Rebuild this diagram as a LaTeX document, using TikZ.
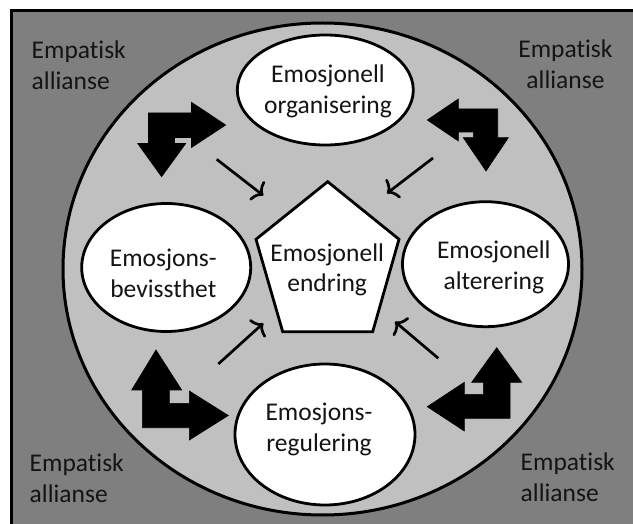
\documentclass[tikz,border=0pt]{standalone}
\usepackage{fontspec}
\setmainfont{Carlito}[Ligatures={NoCommon}]
\usetikzlibrary{shapes.geometric,arrows.meta}
\definecolor{outergray}{HTML}{7F7F7F}
\definecolor{innergray}{HTML}{C0C0C0}
\definecolor{ink}{HTML}{141414}
\begin{document}
\begin{tikzpicture}[x=1pt,y=-1pt,
  every node/.style={inner sep=0pt,font=\fontsize{25.5}{31}\selectfont,text=ink},
  stage/.style={ellipse,draw=black,fill=white,line width=2.8pt},
  stagetext/.style={anchor=base,align=center},
  cornertext/.style={anchor=base west,align=left},
  flow/.style={line width=2.7pt,-{Computer Modern Rightarrow[length=9pt,width=24pt,line width=2.7pt]}},
  bent/.style={fill=black,draw=black,line width=0.6pt,line join=miter}]
\useasboundingbox (0,0) rectangle (633,524);
\clip (0,0) rectangle (633,524);
\fill[white] (0,0) rectangle (633,524);
% framed dark background and the light circle
\draw[fill=outergray,line width=3pt] (11.5,10.5) rectangle (660,560);
\draw[fill=innergray,line width=3pt] (322.5,269) ellipse [x radius=259.5pt,y radius=246pt];

% the four stages (text anchors sit on the baseline of the last line)
\node[stage,minimum width=176pt,minimum height=110pt] (org) at (325.3,90) {};
\node[stage,minimum width=169pt,minimum height=128pt] (bev) at (166.2,267.5) {};
\node[stage,minimum width=166pt,minimum height=125pt] (alt) at (485.5,264.2) {};
\node[stage,minimum width=180pt,minimum height=141pt] (reg) at (325,434.5) {};
\node[stagetext] (orgt) at (328,114) {Emosjonell\\organisering};
\node[stagetext] (bevt) at (163.3,297.7) {Emosjons-\\bevissthet};
\node[stagetext] (altt) at (493.8,289.3) {Emosjonell\\alterering};
\node[stagetext] (regt) at (319,451.7) {Emosjons-\\regulering};

% central pentagon
\draw[fill=white,line width=2.8pt,line join=miter]
  (327.7,181.7) -- (399,239.3) -- (372.7,331.7) -- (282.7,331.7) -- (256,239.3) -- cycle;
\node[stagetext] (endr) at (327.2,292) {Emosjonell\\endring};

% corner labels
\node[cornertext] (alTL) at (31.5,90) {Empatisk\\allianse};
\node[anchor=base,align=center] (alTR) at (565.5,89) {Empatisk\\allianse};
\node[cornertext] (alBL) at (29.5,502) {Empatisk\\allianse};
\node[cornertext] (alBR) at (520.5,501.3) {Empatisk\\allianse};

% thin arrows towards the pentagon
\coordinate (s1) at (216.7,159.3); \coordinate (t1) at (263.3,195.5);
\coordinate (s2) at (433,158);     \coordinate (t2) at (387,193.3);
\coordinate (s3) at (218.3,364);   \coordinate (t3) at (263.3,323.3);
\coordinate (s4) at (438.3,358.3); \coordinate (t4) at (395,321.7);
\draw[flow] (s1) -- (t1);
\draw[flow] (s2) -- (t2);
\draw[flow] (s3) -- (t3);
\draw[flow] (s4) -- (t4);

% bent double arrows
\draw[bent] (148.5,113) -- (191.5,113) -- (191.5,102.3) -- (225.7,125) -- (191.5,147.5)
  -- (191.5,137.5) -- (174.5,137.5) -- (174.5,143.5) -- (185.7,143.5) -- (161.6,176.7)
  -- (137.7,143.5) -- (148.5,143.5) -- cycle;
\draw[bent] (497.7,109) -- (497.7,137.7) -- (508.3,137.7) -- (486,171) -- (463.3,137.7)
  -- (473.3,137.7) -- (473.3,132) -- (458.3,132) -- (458.3,141) -- (427.3,120)
  -- (458.3,99) -- (458.3,109) -- cycle;
\draw[bent] (142.3,427.7) -- (142.3,390) -- (131.7,390) -- (156,350) -- (181.7,390)
  -- (169.3,390) -- (169.3,403.3) -- (189.3,403.3) -- (189.3,391) -- (228.3,415.5)
  -- (189.3,440) -- (189.3,427.7) -- cycle;
\draw[bent] (510,418.3) -- (464.3,418.3) -- (464.3,431) -- (427.3,406.7) -- (464.3,382.3)
  -- (464.3,394.3) -- (483.3,394.3) -- (483.3,382.3) -- (471.7,382.3) -- (496.7,347.7)
  -- (521.7,382.3) -- (510,382.3) -- cycle;
\end{tikzpicture}
\end{document}
